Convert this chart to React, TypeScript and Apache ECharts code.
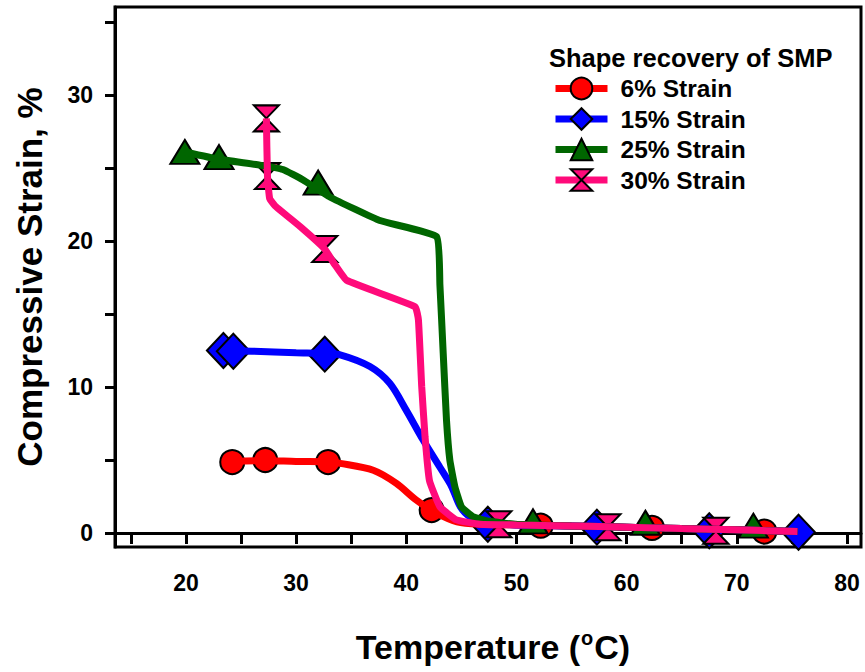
import React, { useEffect, useRef } from "react";
import * as echarts from "echarts";

const FONT = '"Liberation Sans", Arial, Helvetica, sans-serif';

// Axis ticks and labels
const xTickValues = [15, 20, 25, 30, 35, 40, 45, 50, 55, 60, 65, 70, 75, 80];
const xLabelValues = [20, 30, 40, 50, 60, 70, 80];
const yTickValues = [0, 5, 10, 15, 20, 25, 30, 35];
const yLabelValues = [0, 10, 20, 30];

const seriesNames = ["6% Strain", "15% Strain", "25% Strain", "30% Strain"];

// Measured points (markers)
const strain6Markers = [[24.2, 4.86], [27.2, 5.0], [32.9, 4.86], [42.3, 1.57], [52.2, 0.5], [62.3, 0.35], [72.5, 0.1]];
const strain15Markers = [[23.4, 12.5], [24.3, 12.45], [32.6, 12.25], [47.4, 0.6], [57.3, 0.4], [67.5, 0.15], [75.6, 0.05]];
const strain25Markers = [[19.9, 26.1], [23.0, 25.75], [32.0, 24.0], [51.5, 0.8], [61.7, 0.7], [71.5, 0.5]];
const strain30Markers = [[27.3, 28.4], [27.4, 24.45], [32.6, 19.45], [48.4, 0.6], [58.3, 0.4], [68.1, 0.15]];

// Fitted curves
const strain6Curve = [[24.2, 4.9], [27.2, 4.95], [30, 4.9], [32.9, 4.88], [34.0, 4.77], [37.0, 4.3], [39.1, 3.4], [40.9, 2.26], [42.75, 1.35], [44.6, 0.77], [46.7, 0.6], [50, 0.55], [55, 0.48], [60, 0.4], [65, 0.3], [70, 0.22], [75.5, 0.1]];
const strain15Curve = [[23.4, 12.5], [26, 12.45], [30, 12.35], [32.6, 12.3], [34.0, 12.2], [36.7, 11.4], [38.5, 10.25], [40.0, 8.4], [41.5, 6.4], [43.05, 4.5], [44.1, 3.2], [44.9, 1.8], [45.8, 1.1], [47.4, 0.7], [50, 0.55], [55, 0.48], [60, 0.4], [65, 0.3], [70, 0.22], [75.5, 0.1]];
const strain25Curve = [[19.9, 26.1], [23.0, 25.6], [26.7, 25.2], [28.8, 24.9], [30.6, 24.2], [33.1, 23.0], [37.6, 21.4], [42.75, 20.3], [43.05, 17.0], [43.35, 12.3], [43.65, 7.7], [43.95, 5.0], [44.4, 3.2], [45.0, 1.8], [46.1, 1.1], [47.5, 0.8], [50, 0.6], [55, 0.48], [60, 0.4], [65, 0.3], [70, 0.22], [75.5, 0.1]];
const strain30Curve = [[27.3, 28.4], [27.4, 24.45], [27.6, 22.9], [28.1, 22.4], [30.5, 20.9], [32.6, 19.45], [33.5, 18.4], [34.6, 17.3], [40.8, 15.5], [41.1, 14.6], [41.4, 10.0], [41.7, 6.6], [42.1, 3.6], [43.05, 1.8], [44.55, 0.9], [46.7, 0.6], [50, 0.55], [55, 0.48], [60, 0.4], [65, 0.3], [70, 0.22], [75.5, 0.1]];

const colors = ["#ff0000", "#0000ff", "#006600", "#ff0a7a"];
const HOURGLASS = "path://M0,0L10,0L0,10L10,10Z";
const symbols = ["circle", "diamond", "triangle", HOURGLASS];
const symbolSizes: any[] = [24, [33, 35], [29, 24], [25, 26]];
const smooths = [0.3, 0.3, 0.12, 0.12];
const curves = [strain6Curve, strain15Curve, strain25Curve, strain30Curve];
const markers = [strain6Markers, strain15Markers, strain25Markers, strain30Markers];

export default function App() {
  const ref = useRef<HTMLDivElement>(null);
  useEffect(() => {
    if (!ref.current) return;
    const chart = echarts.init(ref.current, null, { renderer: "svg" });
    const series: any[] = [];
    seriesNames.forEach((name, i) => {
      series.push({
        name,
        type: "line",
        data: curves[i],
        smooth: smooths[i],
        showSymbol: false,
        symbol: symbols[i],
        symbolSize: symbolSizes[i],
        lineStyle: { color: colors[i], width: 7 },
        itemStyle: { color: colors[i], borderColor: "#000", borderWidth: 2 },
        silent: true,
      });
      series.push({
        name: name + " data",
        type: "scatter",
        data: markers[i],
        symbol: symbols[i],
        symbolSize: symbolSizes[i],
        itemStyle: { color: colors[i], borderColor: "#000", borderWidth: 2, opacity: 1 },
        silent: true,
      });
    });
    const axisFont = { fontFamily: FONT, fontWeight: "bold" as const, color: "#000" };
    const tickRich = { t: { ...axisFont, fontSize: 23, lineHeight: 26 } };
    chart.setOption({
      animation: false,
      backgroundColor: "#fff",
      title: {
        text: "Shape recovery of SMP",
        left: 549,
        top: 45,
        padding: 0,
        textStyle: { ...axisFont, fontSize: 25.5 },
      },
      legend: {
        data: seriesNames,
        orient: "vertical",
        left: 552,
        top: 76,
        padding: 0,
        itemWidth: 52,
        itemHeight: 27,
        itemGap: 5.5,
        lineStyle: { width: 7 },
        textStyle: { ...axisFont, fontSize: 24.5, padding: [0, 0, 0, 8] },
      },
      grid: {
        left: 115,
        right: 4,
        top: 7,
        bottom: 125,
        show: true,
        borderColor: "#000",
        borderWidth: 3,
        backgroundColor: "transparent",
      },
      xAxis: {
        type: "value",
        min: 13.56,
        max: 81.27,
        name: "{a|Temperature (}{s|o}{a|C)}",
        nameLocation: "middle",
        nameGap: 81,
        nameTextStyle: {
          padding: [0, 0, 0, 10],
          rich: {
            a: { ...axisFont, fontSize: 34, lineHeight: 38 },
            s: { ...axisFont, fontSize: 20, verticalAlign: "top", lineHeight: 38, padding: [0, 1, 16, 1] },
          },
        },
        axisLine: { lineStyle: { color: "#000", width: 3 } },
        axisTick: { show: true, length: 11, lineStyle: { color: "#000", width: 3 }, customValues: xTickValues },
        axisLabel: {
          ...axisFont,
          fontSize: 23,
          margin: 23,
          customValues: xLabelValues,
          formatter: (v: number) => "{t|" + v + "}",
          rich: tickRich,
        },
        splitLine: { show: false },
      },
      yAxis: {
        type: "value",
        min: -0.96,
        max: 36.03,
        name: "Compressive Strain, %",
        nameLocation: "middle",
        nameGap: 68,
        nameTextStyle: { ...axisFont, fontSize: 35 },
        axisLine: { lineStyle: { color: "#000", width: 3 } },
        axisTick: { show: true, length: 10, lineStyle: { color: "#000", width: 3 }, customValues: yTickValues },
        axisLabel: {
          ...axisFont,
          fontSize: 23,
          margin: 22,
          customValues: yLabelValues,
          formatter: (v: number) => "{t|" + v + "}",
          rich: tickRich,
        },
        splitLine: { show: false },
      },
      series,
    });
    return () => chart.dispose();
  }, []);
  return (
    <div
      ref={ref}
      style={{ position: "fixed", left: 0, top: 0, width: 865, height: 672, background: "#fff" }}
    />
  );
}
